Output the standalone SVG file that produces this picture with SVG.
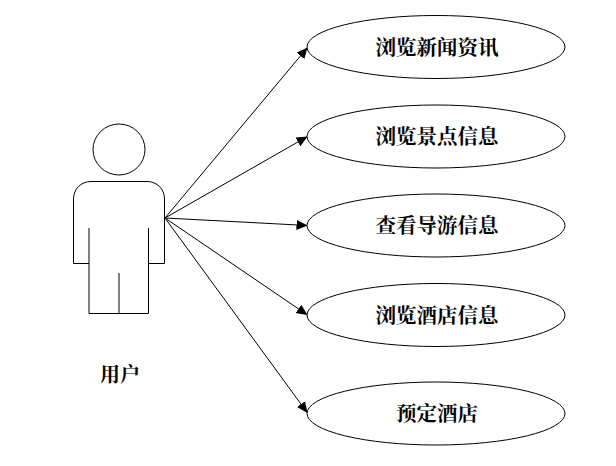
<svg xmlns="http://www.w3.org/2000/svg" width="616" height="466" viewBox="0 0 616 466">
<style>
.s{fill:none;stroke:#000;stroke-width:1}
.n{fill:#fff;stroke:#000;stroke-width:1}
.t{font-family:"Noto Serif CJK SC","Liberation Serif","Noto Sans CJK SC",serif;font-size:20.5px;font-weight:700;text-anchor:middle;fill:#000}
.c{stroke:#000;stroke-width:1;fill:none;marker-end:url(#a)}
</style>
<defs><marker id="a" markerUnits="userSpaceOnUse" markerWidth="13" markerHeight="11" refX="11" refY="5" orient="auto"><path d="M0 0L11 5L0 10Z" fill="#000"/></marker></defs>
<rect width="616" height="466" fill="#fff"/>
<g id="connectors">
<line class="c" x1="165" y1="218" x2="307.500" y2="47.500"/>
<line class="c" x1="165" y1="218" x2="307.500" y2="136.500"/>
<line class="c" x1="165" y1="218" x2="307.500" y2="225.500"/>
<line class="c" x1="165" y1="218" x2="307.500" y2="315"/>
<line class="c" x1="165" y1="218" x2="307.500" y2="413"/>
</g>
<g id="actor">
<ellipse class="s" cx="119" cy="149.500" rx="26" ry="25.500"/>
<path class="s" d="M89 263.500H73.500V199C73.500 189 81 181.500 91 181.500H147C157 181.500 164.500 189 164.500 199V263.500H148.500"/>
<path class="s" d="M89 228V313.500H148.500V228M119 273V313.500"/>
<text class="t" x="120" y="382" style="font-size:20px">用户</text>
</g>
<g id="n1"><ellipse class="n" cx="436" cy="47" rx="129" ry="31.500"/><text class="t" x="437" y="55">浏览新闻资讯</text></g>
<g id="n2"><ellipse class="n" cx="436" cy="136.500" rx="129" ry="31.500"/><text class="t" x="437" y="144">浏览景点信息</text></g>
<g id="n3"><ellipse class="n" cx="436" cy="225.500" rx="129" ry="31.500"/><text class="t" x="437" y="233">查看导游信息</text></g>
<g id="n4"><ellipse class="n" cx="436" cy="315" rx="129" ry="31.500"/><text class="t" x="437" y="323">浏览酒店信息</text></g>
<g id="n5"><ellipse class="n" cx="436" cy="413.500" rx="129" ry="31.500"/><text class="t" x="437" y="421">预定酒店</text></g>
</svg>
